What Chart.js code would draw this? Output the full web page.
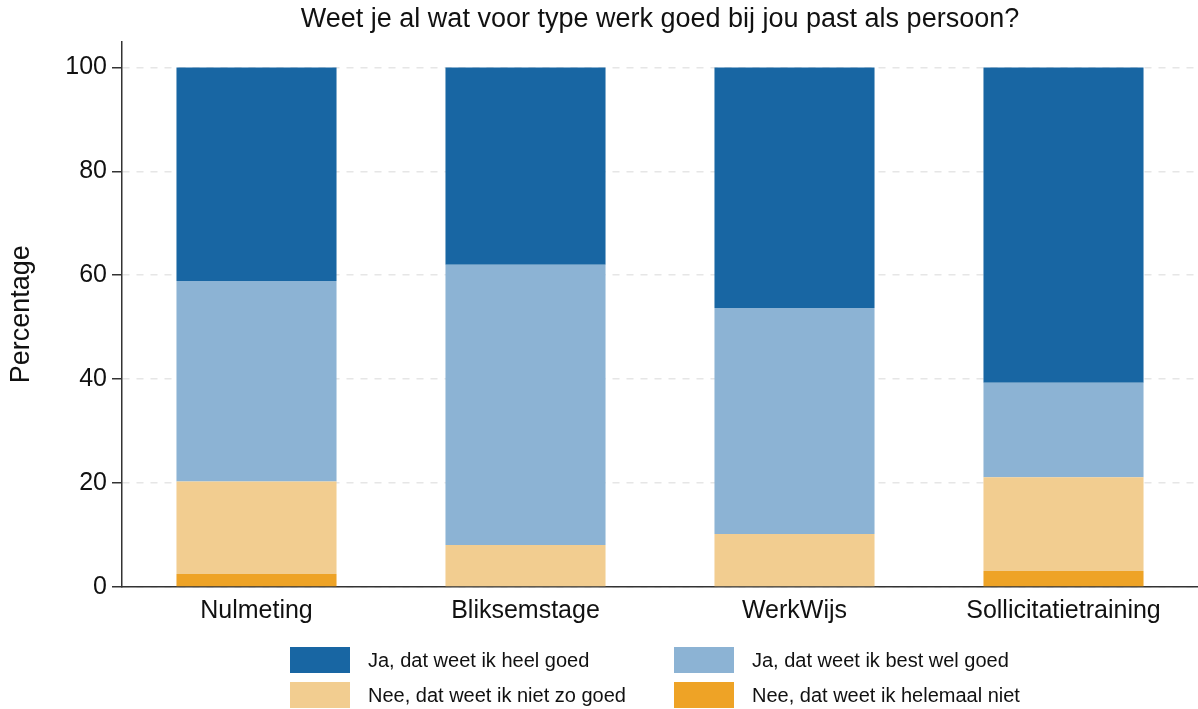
<!DOCTYPE html>
<html>
<head>
<meta charset="utf-8">
<script src="https://cdn.jsdelivr.net/npm/chart.js@4/dist/chart.umd.min.js"></script>
<style>
  html, body { margin: 0; padding: 0; background: #fff; }
  #wrap { position: relative; width: 1198px; height: 709px; }
  #legend {
    position: absolute; left: 290px; top: 647px;
    display: grid; grid-template-columns: 384px 384px; grid-auto-rows: 35px;
    font-family: "Liberation Sans", Arial, sans-serif; font-size: 20px; color: #111;
  }
  .item { display: flex; align-items: flex-start; }
  .box { width: 60px; height: 26px; margin-right: 18px; }
  .item span { line-height: 26px; }
</style>
</head>
<body>
<div id="wrap">
  <canvas id="chart" width="1198" height="709"></canvas>
  <div id="legend"></div>
</div>
<script>
// gegevens (percentages per meting)
const categories = ['Nulmeting', 'Bliksemstage', 'WerkWijs', 'Sollicitatietraining'];
const heelGoed = [41.1, 38.0, 46.3, 60.7];
const bestWelGoed = [38.6, 53.9, 43.5, 18.2];
const nietZoGoed = [17.8, 8.1, 10.2, 18.0];
const helemaalNiet = [2.5, 0, 0, 3.1];
const yTicks = [0, 20, 40, 60, 80, 100];

const font = '"Liberation Sans", Arial, sans-serif';

// volgorde van onder naar boven in de stapel
const datasets = [
    { label: 'Nee, dat weet ik helemaal niet', data: helemaalNiet, backgroundColor: '#eea326' },
    { label: 'Nee, dat weet ik niet zo goed', data: nietZoGoed, backgroundColor: '#f2cd90' },
    { label: 'Ja, dat weet ik best wel goed', data: bestWelGoed, backgroundColor: '#8cb3d4' },
    { label: 'Ja, dat weet ik heel goed', data: heelGoed, backgroundColor: '#1866a3' }
];
datasets.forEach(d => { d.barPercentage = 0.595; d.categoryPercentage = 1; d.borderWidth = 0; });

const chart = new Chart(document.getElementById('chart'), {
    type: 'bar',
    data: { labels: categories, datasets: datasets },
    options: {
        responsive: false,
        animation: false,
        layout: { padding: { left: 0, right: 0, top: 0, bottom: 80 } },
        plugins: {
            legend: { display: false },
            tooltip: { enabled: false },
            title: {
                display: true,
                fullSize: false,
                text: 'Weet je al wat voor type werk goed bij jou past als persoon?',
                color: '#111',
                font: { family: font, size: 27, weight: 'normal' },
                padding: { top: 3, bottom: 6 }
            }
        },
        scales: {
            x: {
                stacked: true,
                grid: { display: false, drawTicks: false },
                border: { display: true, color: '#333', width: 1.5 },
                ticks: { color: '#111', font: { family: font, size: 25 }, padding: 9, maxRotation: 0 },
                afterFit: s => { s.height = 42; }
            },
            y: {
                stacked: true,
                min: 0,
                max: 105,
                afterBuildTicks: s => { s.ticks = yTicks.map(v => ({ value: v })); },
                grid: {
                    color: '#e6e6e6', lineWidth: 1.5,
                    tickColor: '#333', tickLength: 10, tickWidth: 1.5, tickBorderDash: []
                },
                border: { display: true, color: '#333', width: 1.5, dash: [7, 7] },
                ticks: { color: '#111', font: { family: font, size: 25 }, padding: 5 },
                title: {
                    display: true, text: 'Percentage', color: '#111',
                    font: { family: font, size: 27 }, padding: { top: 5, bottom: 20 }
                },
                afterFit: s => { s.width = 122; }
            }
        }
    }
});

// legenda in twee kolommen, zelfde volgorde als het origineel
const legend = document.getElementById('legend');
[3, 2, 1, 0].forEach(i => {
    const ds = chart.data.datasets[i];
    const item = document.createElement('div');
    item.className = 'item';
    item.innerHTML = '<div class="box" style="background:' + ds.backgroundColor + '"></div><span>' + ds.label + '</span>';
    legend.appendChild(item);
});
</script>
</body>
</html>
